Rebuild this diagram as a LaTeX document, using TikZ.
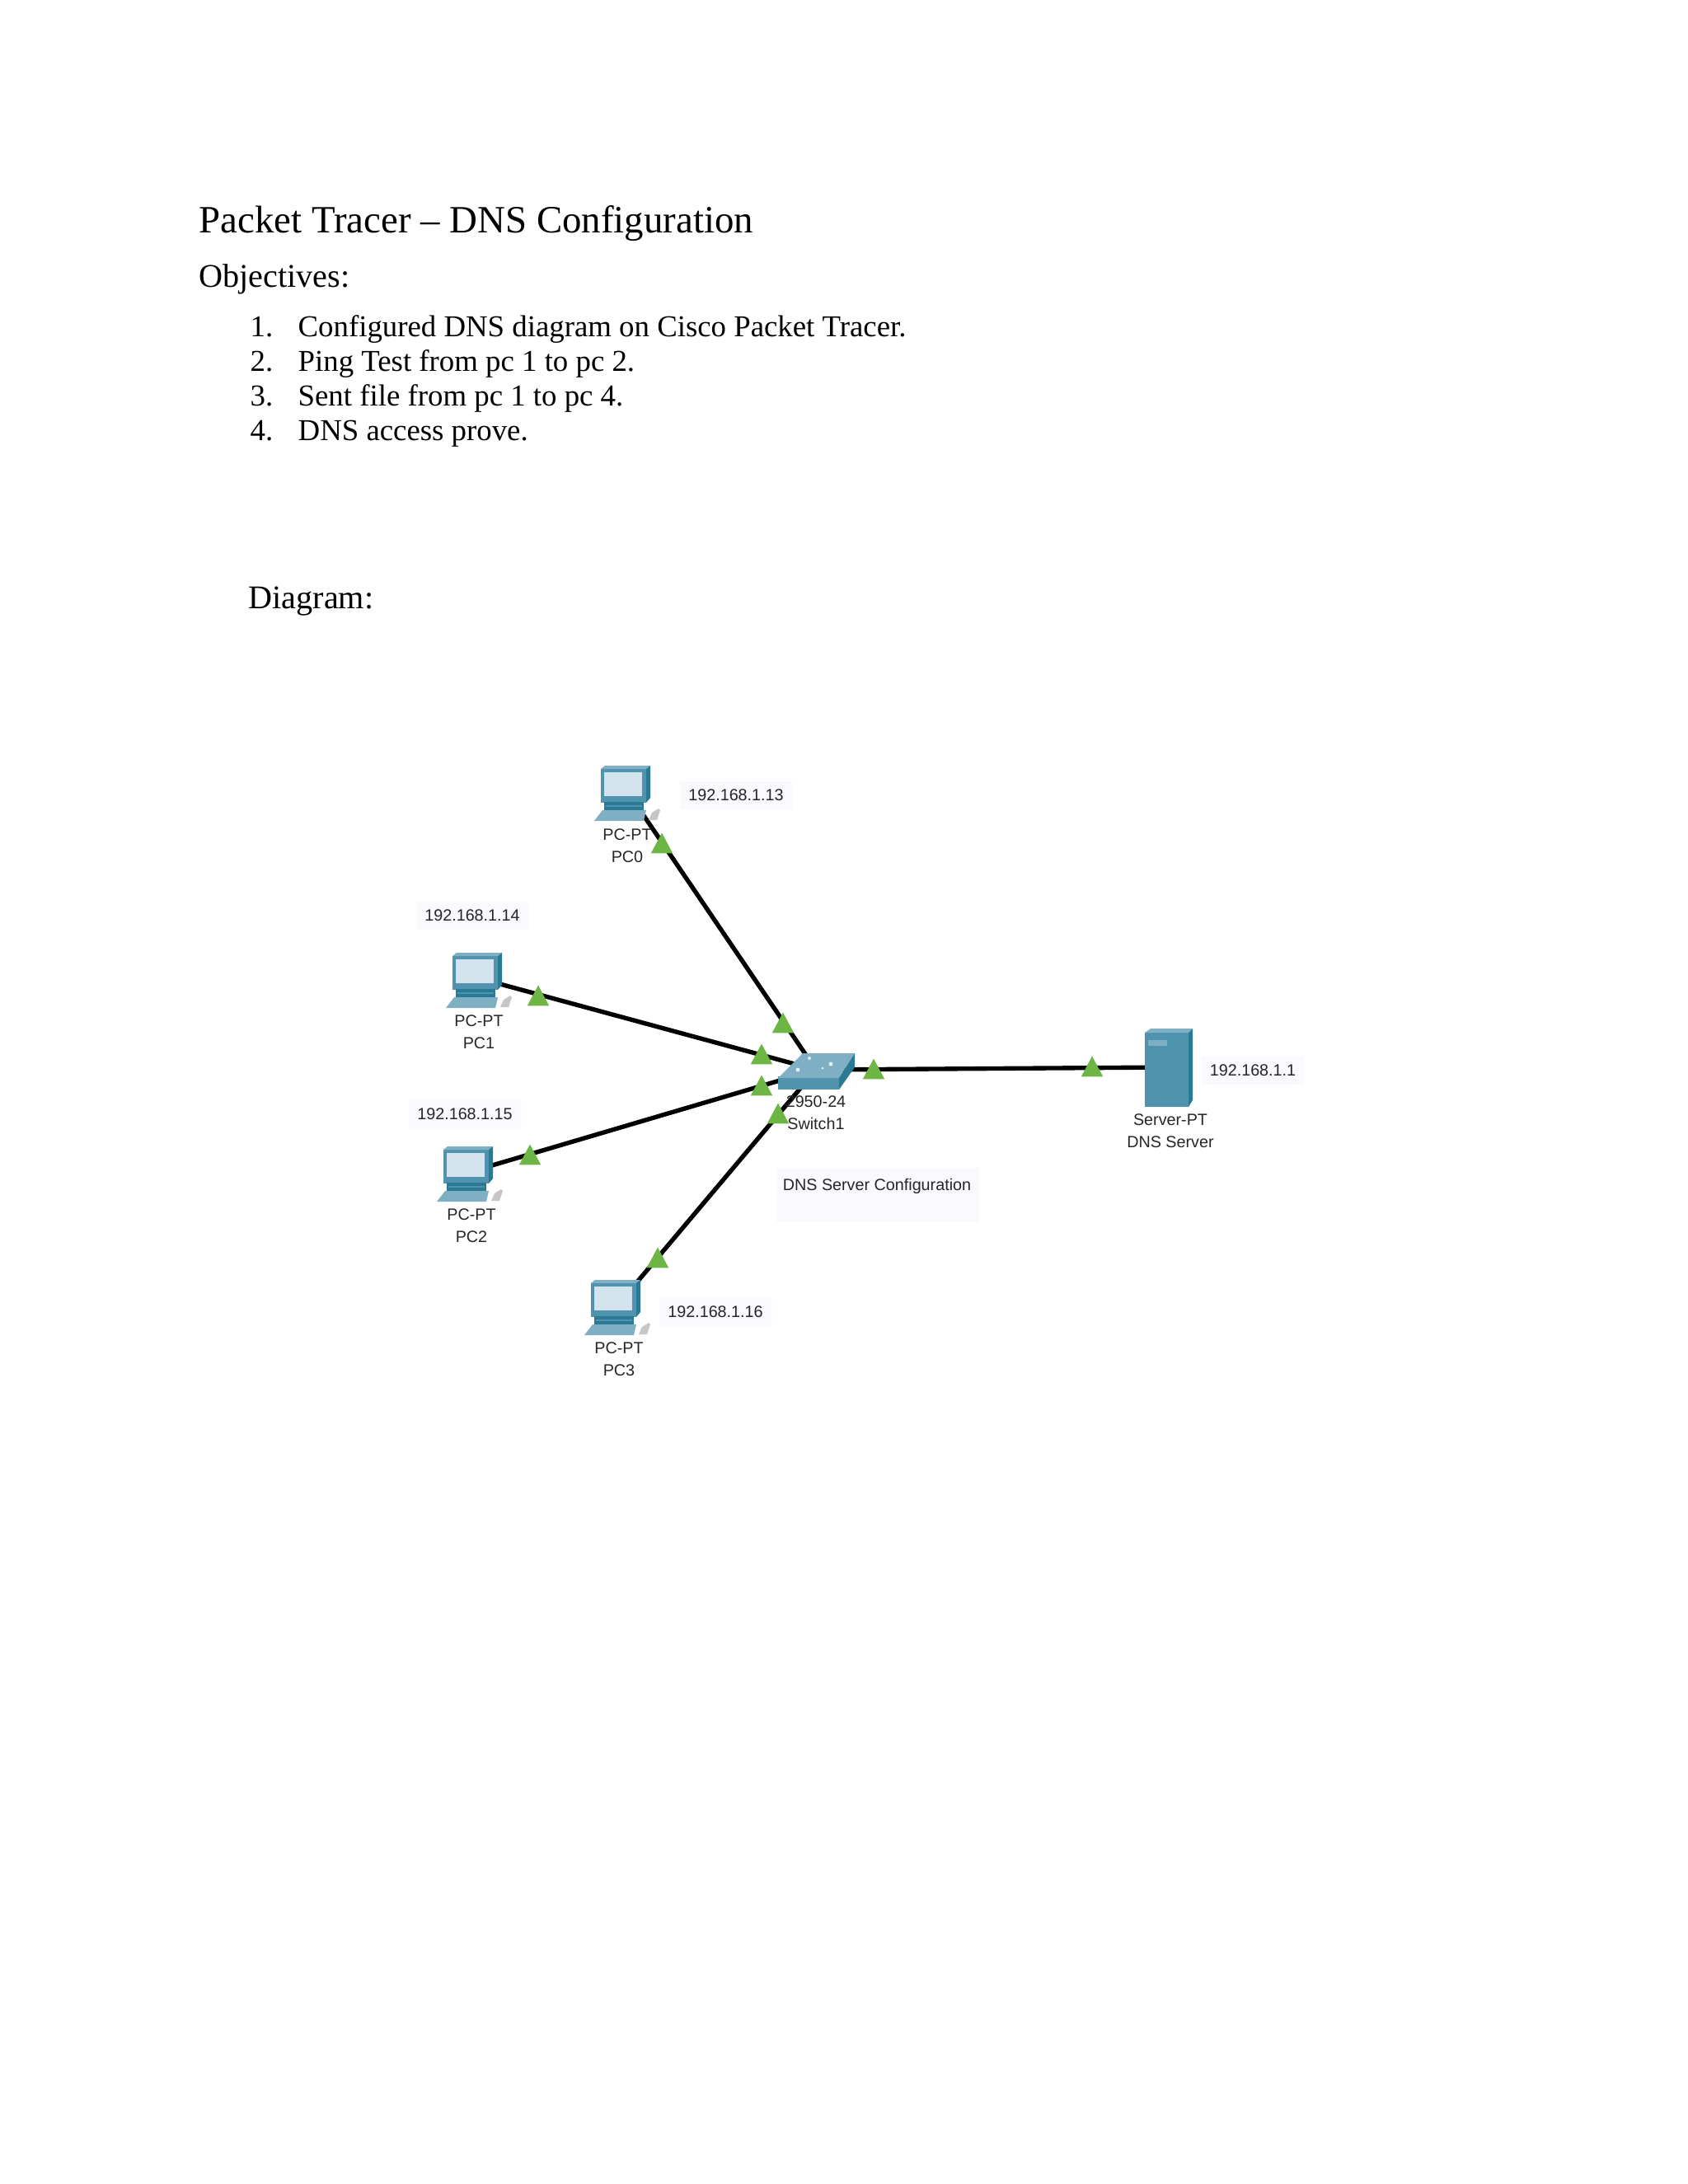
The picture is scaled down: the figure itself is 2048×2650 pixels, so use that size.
\documentclass[tikz,border=0pt]{standalone}
\usepackage{fontspec}
\setmainfont{Liberation Serif}
\newfontfamily\labelfam{Liberation Sans}
\usetikzlibrary{shapes.geometric}
\definecolor{tealmid}{HTML}{4F93AE}
\definecolor{tealdark}{HTML}{2A7A96}
\definecolor{teallight}{HTML}{7FAFC3}
\definecolor{screenblue}{HTML}{D3E4EE}
\definecolor{portgreen}{HTML}{6DB544}
\definecolor{labelbg}{HTML}{FAFAFE}
\tikzset{
  heading/.style={anchor=base west,inner sep=0pt,font=\fontsize{14}{16}\selectfont},
  subheading/.style={anchor=base west,inner sep=0pt,font=\fontsize{12}{14}\selectfont},
  bodytext/.style={anchor=base west,inner sep=0pt,font=\fontsize{11}{13}\selectfont},
  devlabel/.style={inner sep=0pt,align=center,text=black!85,font=\labelfam\fontsize{5.9}{8}\selectfont},
  iplabel/.style={devlabel,fill=labelbg,inner xsep=3pt,inner ysep=3pt},
  devpoint/.style={inner sep=0pt,minimum size=0pt},
  link/.style={line width=1.6pt,black},
  port/.style={isosceles triangle,isosceles triangle apex angle=56,shape border rotate=90,
    inner sep=0pt,minimum height=7.4pt,minimum width=7.8pt,fill=portgreen,yshift=-1pt},
  pics/pcicon/.style={code={
    \begin{scope}[shift={(-32,-31)}]
    \fill[tealmid] (0,4) rectangle (55,45);
    \fill[teallight] (0,4) -- (5,0) -- (60,0) -- (55,4) -- cycle;
    \fill[tealdark] (55,4) -- (60,0) -- (60,39) -- (55,45) -- cycle;
    \fill[screenblue] (4,8) rectangle (50,37);
    \fill[tealdark] (4,44) rectangle (52,55);
    \fill[tealmid] (6,48) rectangle (50,50);
    \fill[teallight] (-8,67) -- (2,54) -- (55,54) -- (52,67) -- cycle;
    \fill[gray!45] (58,66) -- (62,57) -- (70,52) -- (72,54) -- (68,66) -- cycle;
    \end{scope}
  }},
}
\begin{document}
\begin{tikzpicture}[x=0.2988pt,y=-0.2988pt]
\useasboundingbox (0,0) rectangle (2048,2650);
\node[heading] (title) at (241,282) {Packet Tracer -- DNS Configuration};
\node[subheading] (objectives) at (241,348) {Objectives:};
\foreach \i/\ly/\itemtext in {1/408/Configured DNS diagram on Cisco Packet Tracer.,
    2/450/Ping Test from pc 1 to pc 2.,3/492/Sent file from pc 1 to pc 4.,4/534/DNS access prove.} {
  \node[bodytext] (num\i) at (303,\ly) {\i.};
  \node[bodytext] (item\i) at (361,\ly) {\itemtext};
}
\node[subheading] (diagram) at (301,738) {Diagram:};

\node[devpoint] (PC0) at (761,960) {};
\node[devpoint] (PC1) at (581,1187) {};
\node[devpoint] (PC2) at (570,1422) {};
\node[devpoint] (PC3) at (749,1584) {};
\node[devpoint] (Switch) at (990,1298) {};
\node[devpoint] (Server) at (1418,1295) {};

\foreach \dev in {PC0,PC1,PC2,PC3,Server}
  \draw[link] (\dev) -- (Switch);

\foreach \dev in {PC0,PC1,PC2,PC3}
  \pic at (\dev) {pcicon};

\fill[tealmid] (944,1306) rectangle (1018,1322);
\fill[teallight] (944,1308) -- (974,1278) -- (1037,1278) -- (1018,1308) -- cycle;
\fill[tealdark] (1018,1322) -- (1037,1295) -- (1037,1278) -- (1018,1308) -- cycle;
\fill[white!80!teallight] (968,1298) circle (2.5) (982,1284) circle (2) (1008,1291) circle (2.5) (998,1296) circle (1.5);

\fill[tealmid] (1389,1253) rectangle (1442,1343);
\fill[teallight] (1389,1253) -- (1396,1248) -- (1447,1248) -- (1442,1253) -- cycle;
\fill[tealdark] (1442,1253) -- (1447,1248) -- (1447,1335) -- (1442,1343) -- cycle;
\fill[teallight] (1393,1262) rectangle (1416,1269);

\foreach \i/\px/\py in {0/803/1024,1/950/1242,2/653/1209,3/924/1280,4/924/1318,
    5/944/1352,6/643/1402,7/798/1527,8/1060/1298,9/1325/1295}
  \node[port] (port\i) at (\px,\py) {};

\node[iplabel] (ipPC0) at (893,965) {192.168.1.13};
\node[iplabel] (ipPC1) at (573,1111) {192.168.1.14};
\node[iplabel] (ipPC2) at (564,1352) {192.168.1.15};
\node[iplabel] (ipPC3) at (868,1592) {192.168.1.16};
\node[iplabel] (ipServer) at (1520,1299) {192.168.1.1};
\fill[labelbg] (942,1417) rectangle (1188,1483);
\node[devlabel] (note) at (1064,1439) {DNS Server Configuration};

\node[devlabel] (namePC0) at (761,1026) {PC-PT\\PC0};
\node[devlabel] (namePC1) at (581,1252) {PC-PT\\PC1};
\node[devlabel] (namePC2) at (572,1487) {PC-PT\\PC2};
\node[devlabel] (namePC3) at (751,1649) {PC-PT\\PC3};
\node[devlabel] (nameSwitch) at (990,1350) {2950-24\\Switch1};
\node[devlabel] (nameServer) at (1420,1372) {Server-PT\\DNS Server};
\end{tikzpicture}
\end{document}
